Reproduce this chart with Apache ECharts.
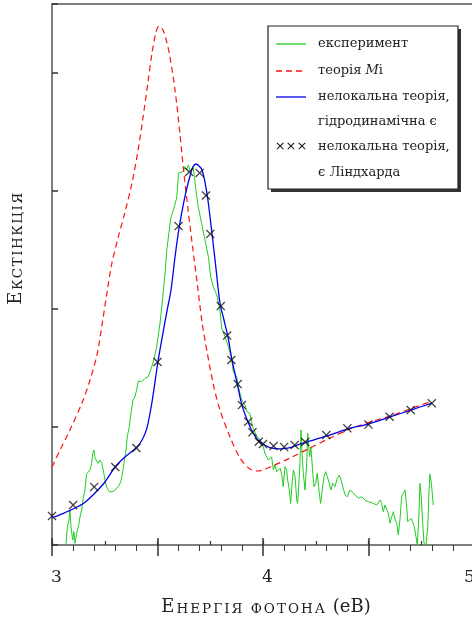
<!DOCTYPE html>
<html><head><meta charset="utf-8">
<script src="https://cdn.jsdelivr.net/npm/echarts@6/dist/echarts.min.js"></script>
<style>html,body{margin:0;padding:0;background:#fff}#c{width:472px;height:623px}</style>
</head><body><div id="c"></div>
<script>
// Experiment (green)
const expE=[3.066,3.073,3.081,3.085,3.090,3.098,3.104,3.109,3.117,3.125,3.133,3.141,3.148,3.156,3.164,3.172,3.180,3.188,3.193,3.199,3.204,3.212,3.219,3.227,3.236,3.243,3.251,3.259,3.272,3.288,3.299,3.314,3.326,3.335,3.341,3.351,3.357,3.366,3.374,3.384,3.393,3.401,3.409,3.425,3.441,3.456,3.464,3.480,3.496,3.512,3.525,3.536,3.544,3.554,3.563,3.578,3.591,3.600,3.607,3.622,3.630,3.638,3.646,3.657,3.667,3.673,3.682,3.693,3.709,3.725,3.741,3.752,3.764,3.781,3.796,3.804,3.820,3.836,3.852,3.859,3.875,3.883,3.899,3.915,3.923,3.938,3.946,3.954,3.970,3.986,4.001,4.009,4.025,4.041,4.049,4.057,4.065,4.073,4.081,4.089,4.096,4.104,4.112,4.117,4.125,4.131,4.139,4.144,4.152,4.160,4.164,4.171,4.175,4.180,4.185,4.191,4.199,4.207,4.212,4.217,4.221,4.227,4.236,4.242,4.250,4.257,4.265,4.273,4.281,4.289,4.297,4.305,4.314,4.322,4.330,4.341,4.352,4.362,4.370,4.378,4.389,4.400,4.412,4.423,4.436,4.452,4.468,4.483,4.499,4.523,4.539,4.555,4.562,4.570,4.578,4.586,4.594,4.602,4.610,4.618,4.626,4.634,4.641,4.649,4.657,4.665,4.673,4.681,4.686,4.693,4.701,4.709,4.717,4.725,4.731,4.738,4.744,4.750,4.757,4.763,4.773,4.781,4.787,4.791,4.798,4.807];
const expV=[0,0.155,0.212,0.297,0.155,0.042,0.113,0.014,0.099,0.155,0.240,0.297,0.398,0.466,0.602,0.608,0.636,0.692,0.777,0.805,0.735,0.720,0.692,0.720,0.692,0.636,0.551,0.489,0.452,0.452,0.466,0.494,0.536,0.621,0.692,0.805,0.918,1.003,1.116,1.229,1.257,1.314,1.390,1.384,1.413,1.426,1.466,1.551,1.678,1.881,2.102,2.305,2.500,2.644,2.771,2.856,2.941,3.153,3.164,3.164,3.206,3.178,3.220,3.164,3.206,3.150,3.008,2.867,2.726,2.585,2.443,2.274,2.189,2.119,1.992,1.839,1.765,1.681,1.568,1.469,1.426,1.342,1.229,1.186,1.130,1.116,1.045,0.989,0.924,0.890,0.833,0.777,0.720,0.746,0.636,0.678,0.621,0.636,0.650,0.593,0.494,0.664,0.636,0.551,0.466,0.353,0.551,0.636,0.579,0.381,0.353,0.551,0.692,0.975,0.777,0.608,0.466,0.692,0.947,0.960,0.748,0.833,0.608,0.494,0.523,0.608,0.466,0.353,0.466,0.579,0.621,0.579,0.523,0.466,0.523,0.494,0.565,0.593,0.551,0.494,0.424,0.409,0.466,0.452,0.424,0.396,0.409,0.381,0.367,0.353,0.339,0.381,0.353,0.282,0.339,0.325,0.269,0.184,0.240,0.282,0.212,0.184,0.085,0.212,0.409,0.424,0.466,0.325,0.197,0.212,0.226,0.197,0.155,0.070,0,0.212,0.523,0.409,0.184,0.014,0,0.155,0.466,0.602,0.523,0.339];
// Mie theory (red dashed)
const mieE=[3.000,3.038,3.085,3.142,3.180,3.213,3.237,3.261,3.284,3.313,3.346,3.379,3.408,3.431,3.455,3.474,3.493,3.507,3.526,3.545,3.559,3.583,3.607,3.621,3.645,3.668,3.687,3.711,3.735,3.763,3.796,3.844,3.891,3.938,3.976,4.033,4.128,4.223,4.318,4.412,4.507,4.602,4.697,4.801];
const mieV=[0.661,0.805,0.975,1.203,1.398,1.610,1.864,2.144,2.390,2.602,2.822,3.068,3.347,3.619,3.924,4.169,4.347,4.398,4.364,4.254,4.136,3.856,3.475,3.220,2.839,2.500,2.237,1.890,1.636,1.373,1.144,0.915,0.737,0.644,0.627,0.661,0.737,0.822,0.907,0.983,1.042,1.093,1.153,1.220];
// Nonlocal theory, hydrodynamic epsilon (blue)
const hydroE=[3.000,3.047,3.100,3.152,3.199,3.251,3.299,3.346,3.398,3.427,3.450,3.474,3.502,3.526,3.545,3.564,3.583,3.602,3.621,3.635,3.654,3.668,3.682,3.697,3.711,3.725,3.739,3.758,3.777,3.796,3.815,3.834,3.853,3.877,3.900,3.929,3.953,3.976,4.000,4.033,4.081,4.128,4.161,4.209,4.303,4.398,4.498,4.602,4.701,4.801];
const hydroV=[0.229,0.263,0.305,0.356,0.432,0.534,0.661,0.746,0.822,0.890,0.992,1.212,1.551,1.797,1.983,2.161,2.441,2.686,2.873,2.992,3.127,3.203,3.229,3.212,3.178,3.076,2.924,2.644,2.347,2.051,1.907,1.763,1.568,1.373,1.186,1.042,0.949,0.890,0.856,0.826,0.814,0.826,0.847,0.873,0.924,0.983,1.025,1.085,1.144,1.203];
// Nonlocal theory, Lindhard epsilon (crosses)
const lindE=[3.0,3.1,3.2,3.3,3.4,3.5,3.6,3.65,3.7,3.73,3.75,3.8,3.83,3.85,3.88,3.9,3.93,3.95,3.98,4.0,4.05,4.1,4.15,4.2,4.3,4.4,4.5,4.6,4.7,4.8];
const lindV=[0.246,0.339,0.492,0.661,0.822,1.551,2.703,3.161,3.153,2.962,2.636,2.025,1.775,1.568,1.364,1.186,1.045,0.955,0.875,0.856,0.839,0.831,0.847,0.873,0.932,0.989,1.021,1.087,1.144,1.201];
// Tick labels and texts
const xTickLabels=['3','4','5'];
const legendTexts=['експеримент','теорія ','Мі','нелокальна теорія,','гідродинамічна ϵ','нелокальна теорія,','ϵ Ліндхарда'];
const xTitle=['Е','НЕРГІЯ ФОТОНА',' (еВ)'];
const yTitle=['Е','КСТІНКЦІЯ'];

const zip=(a,b)=>a.slice(0,Math.min(a.length,b.length)).map((v,i)=>[v,b[i]]);
const SERIF='"DejaVu Serif","Liberation Serif",serif';
const GREEN='#22cc22', RED='#ff1111', BLUE='#0000ee';
const axisCol='#555', tickCol='#333';
const chart=echarts.init(document.getElementById('c'));
const xBase={type:'value',min:3,max:5,splitLine:{show:false}};
const noLbl={show:false};
const crossPath='path://M0,1L1,0L5,4L9,0L10,1L6,5L10,9L9,10L5,6L1,10L0,9L4,5Z';
const spaced=(s,tok)=>s.split('').map(ch=>'{'+tok+'|'+ch+'}').join('');

chart.setOption({
  animation:false,
  backgroundColor:'#fff',
  grid:{left:52,right:-2,top:4,bottom:78,containLabel:false,outerBoundsMode:'none'},
  xAxis:[
    Object.assign({},xBase,{position:'bottom',interval:0.5,
      axisLine:{onZero:false,lineStyle:{color:axisCol,width:1.5}},
      axisTick:{inside:false,length:11,lineStyle:{color:tickCol,width:1.5}},
      minorTick:{show:true,splitNumber:5,length:6,lineStyle:{color:tickCol,width:1}},
      axisLabel:{show:true,showMinLabel:true,showMaxLabel:true,margin:24,hideOverlap:false,
        fontFamily:SERIF,fontSize:17,color:'#222',
        formatter:function(v){const s=String(Math.round(v*100)/100);
          if(xTickLabels.indexOf(s)<0)return '';
          return s===xTickLabels[2]?'{e|'+s+'}':'{n|'+s+'}';},
        rich:{n:{fontFamily:SERIF,fontSize:17,color:'#222',padding:[0,0,0,9]},
              e:{fontFamily:SERIF,fontSize:17,color:'#222',padding:[0,9,0,0]}}}}),
    Object.assign({},xBase,{position:'bottom',interval:0.5,axisLine:{show:false,onZero:false},
      axisTick:{inside:true,length:7,lineStyle:{color:tickCol,width:1.5}},axisLabel:noLbl}),
    Object.assign({},xBase,{position:'bottom',interval:0.25,axisLine:{show:false,onZero:false},
      axisTick:{inside:true,length:4,lineStyle:{color:tickCol,width:1.2}},axisLabel:noLbl}),
    Object.assign({},xBase,{position:'top',axisLine:{show:true,onZero:false,lineStyle:{color:axisCol,width:1.5}},
      axisTick:{show:false},axisLabel:noLbl})
  ],
  yAxis:[{type:'value',min:0,max:4.585,interval:1,splitLine:{show:false},
    axisLine:{show:true,onZero:false,lineStyle:{color:axisCol,width:1.5}},
    axisTick:{show:true,inside:true,length:6,lineStyle:{color:tickCol,width:1.5}},
    axisLabel:noLbl}],
  series:[
    {type:'line',name:'експеримент',data:zip(expE,expV),showSymbol:false,symbol:'none',
      lineStyle:{color:GREEN,width:1},z:2},
    {type:'line',name:'теорія Мі',data:zip(mieE,mieV),showSymbol:false,symbol:'none',smooth:0.3,
      lineStyle:{color:RED,width:1.2,type:[6,4]},z:3},
    {type:'line',name:'нелокальна теорія, гідродинамічна ϵ',data:zip(hydroE,hydroV),showSymbol:false,symbol:'none',smooth:0.3,
      lineStyle:{color:BLUE,width:1.3},z:4},
    {type:'scatter',name:'нелокальна теорія, ϵ Ліндхарда',data:zip(lindE,lindV),symbol:crossPath,symbolSize:9,clip:false,
      itemStyle:{color:'#111'},z:5}
  ],
  graphic:[
    {type:'rect',shape:{x:271,y:29,width:190,height:163},style:{fill:'#333'},z:100},
    {type:'rect',shape:{x:268,y:26,width:190,height:163},style:{fill:'#fff',stroke:'#222',lineWidth:1.2},z:101},
    {type:'line',shape:{x1:276,y1:44,x2:306,y2:44},style:{stroke:GREEN,lineWidth:1.3},z:102},
    {type:'line',shape:{x1:276,y1:71,x2:306,y2:71},style:{stroke:RED,lineWidth:1.3,lineDash:[6,4]},z:102},
    {type:'line',shape:{x1:276,y1:97,x2:306,y2:97},style:{stroke:BLUE,lineWidth:1.3},z:102},
    {type:'text',x:291,y:147,style:{text:'×××',fontFamily:'"DejaVu Sans",sans-serif',fontSize:13,fill:'#111',align:'center',verticalAlign:'middle'},z:102},
    {type:'text',x:318,y:44,style:{text:legendTexts[0],fontFamily:SERIF,fontSize:13,fill:'#222',verticalAlign:'middle'},z:102},
    {type:'text',x:318,y:71,style:{text:legendTexts[1]+'{i|'+legendTexts[2][0]+'}'+legendTexts[2].slice(1),fontFamily:SERIF,fontSize:13,fill:'#222',verticalAlign:'middle',
      rich:{i:{fontFamily:SERIF,fontSize:13,fontStyle:'italic',fill:'#222'}}},z:102},
    {type:'text',x:318,y:97,style:{text:legendTexts[3],fontFamily:SERIF,fontSize:13,fill:'#222',verticalAlign:'middle'},z:102},
    {type:'text',x:318,y:122,style:{text:legendTexts[4],fontFamily:SERIF,fontSize:13,fill:'#222',verticalAlign:'middle'},z:102},
    {type:'text',x:318,y:147,style:{text:legendTexts[5],fontFamily:SERIF,fontSize:13,fill:'#222',verticalAlign:'middle'},z:102},
    {type:'text',x:318,y:173,style:{text:legendTexts[6],fontFamily:SERIF,fontSize:13,fill:'#222',verticalAlign:'middle'},z:102},
    {type:'text',x:16,y:248,rotation:Math.PI/2,style:{text:'{b|'+yTitle[0]+'}'+spaced(yTitle[1],'s'),align:'center',verticalAlign:'middle',
      rich:{b:{fontFamily:SERIF,fontSize:18,fill:'#222',verticalAlign:'bottom',padding:[0,1.5,0,0]},
            s:{fontFamily:SERIF,fontSize:13.5,fill:'#222',verticalAlign:'bottom',padding:[0,1.5,0,0]}}},z:102},
    {type:'text',x:267,y:607,style:{text:'{b|'+xTitle[0]+'}'+spaced(xTitle[1],'s')+'{b|'+xTitle[2]+'}',align:'center',verticalAlign:'middle',
      rich:{b:{fontFamily:SERIF,fontSize:18,fill:'#222',verticalAlign:'bottom',padding:[0,2,0,0]},
            s:{fontFamily:SERIF,fontSize:13.5,fill:'#222',verticalAlign:'bottom',padding:[0,2,0,0]}}},z:102}
  ]
});
</script></body></html>
